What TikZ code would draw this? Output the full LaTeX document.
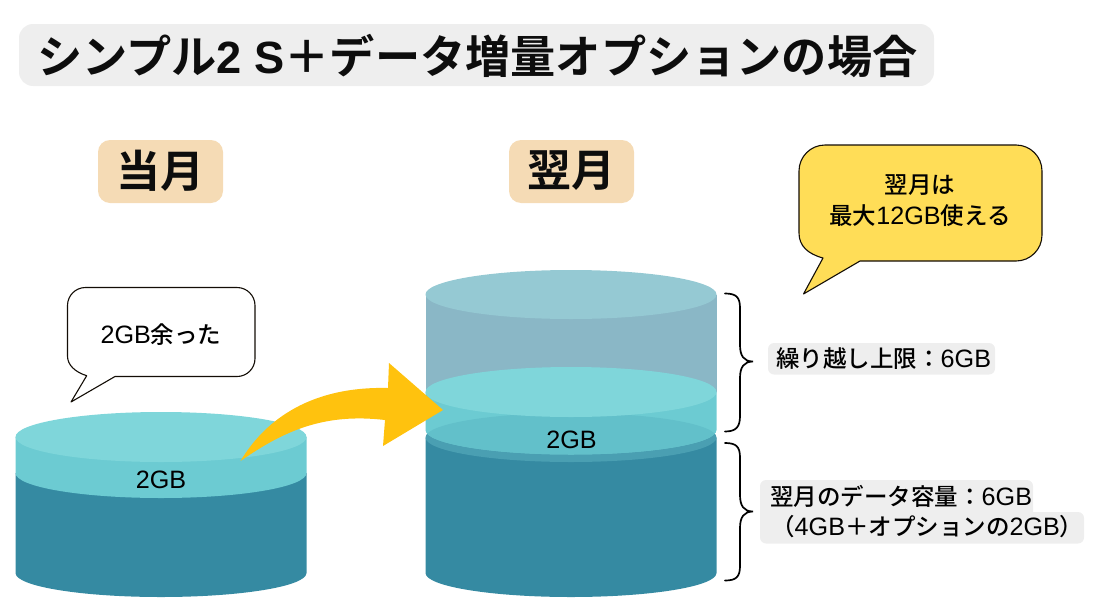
\documentclass[tikz,border=0pt]{standalone}
\usepackage{fontspec}
\setmainfont{Noto Sans CJK JP Medium}[BoldFont={Noto Sans CJK JP Bold}]
\newfontfamily\lat{Liberation Sans}[Scale=1.07]
\newfontfamily\latb{Liberation Sans Bold}
\definecolor{darkc}{HTML}{358AA2}
\definecolor{darktop}{HTML}{4A9FB2}
\definecolor{lightside}{HTML}{6CCBD2}
\definecolor{lighttop}{HTML}{7FD6DA}
\definecolor{overlap}{HTML}{62C0CA}
\definecolor{ghostside}{HTML}{8AB7C6}
\definecolor{ghosttop}{HTML}{95C9D3}
\definecolor{arrowc}{HTML}{FFC20E}
\definecolor{bubbley}{HTML}{FFDD57}
\definecolor{peach}{HTML}{F5DBB5}
\definecolor{graybg}{HTML}{EEEEEE}
\tikzset{
 txt/.style={inner sep=0pt,font=\fontsize{23.5}{28}\selectfont,text=black},
 head/.style={inner sep=0pt,font=\fontsize{44}{50}\selectfont\bfseries,text=black!95},
 graybox/.style={fill=graybg,rounded corners=6pt},
 bracec/.style={draw=black,line width=1.7pt,line cap=round},
 bubble/.style={draw=black!90!brown,line width=1.1pt,line join=round}
}
\begin{document}
\begin{tikzpicture}[x=1pt,y=-1pt]
\useasboundingbox (0,0) rectangle (1100,613);
% title
\fill[graybg,rounded corners=14pt] (19,24) rectangle (934,86);
\node[head,font=\fontsize{45.2}{50}\selectfont\bfseries] (title) at (477.5,56) {シンプル{\latb 2 S}＋データ増量オプションの場合};
% heading boxes
\fill[peach,rounded corners=12pt] (98,140) rectangle (223,203);
\fill[peach,rounded corners=12pt] (509,140) rectangle (634,203);
\node[head] (cur) at (160.5,171) {当月};
\node[head] (nxt) at (571.5,171) {翌月};
% left cylinder
\fill[darkc] (15.5,473) -- (15.5,573) arc[start angle=180,end angle=0,x radius=145.5,y radius=24] -- (306.5,473) -- cycle;
\fill[lightside] (15.5,437) -- (15.5,473) arc[start angle=180,end angle=0,x radius=145.5,y radius=25] -- (306.5,437) -- cycle;
\fill[lighttop] (161,437) ellipse[x radius=145.5,y radius=25];
\node[txt] (leftgb) at (161,480) {\lat 2GB};
% right cylinder
\fill[ghostside] (425.5,294.5) rectangle (716.5,392);
\fill[ghosttop] (571,294.5) ellipse[x radius=145.5,y radius=24.5];
\fill[darkc] (425.5,437.5) -- (425.5,573) arc[start angle=180,end angle=0,x radius=145.5,y radius=24] -- (716.5,437.5) -- cycle;
\fill[darktop] (571,437.5) ellipse[x radius=145.5,y radius=24.5];
\fill[lightside] (425.5,392) -- (425.5,430) arc[start angle=180,end angle=0,x radius=145.5,y radius=24.5] -- (716.5,392) -- cycle;
\begin{scope}
\clip (425.5,392) -- (425.5,430) arc[start angle=180,end angle=0,x radius=145.5,y radius=24.5] -- (716.5,392) -- cycle;
\fill[overlap] (571,437.5) ellipse[x radius=145.5,y radius=24.5];
\end{scope}
\fill[lighttop] (571,392) ellipse[x radius=145.5,y radius=25];
\node[txt] (rightgb) at (571.5,440) {\lat 2GB};
% arrow
\fill[arrowc] (240.5,461) .. controls (262,425) and (305,386) .. (388,388)
 -- (389,363) -- (443,410) -- (383,446) -- (385,420)
 .. controls (325,413) and (285,430) .. cycle;
% left bubble
\path[bubble,fill=white] (85.5,287.5) -- (237,287.5) arc[start angle=-90,end angle=0,radius=18] -- (255,358.5) arc[start angle=0,end angle=90,radius=18] -- (115,376.5) -- (71,402) -- (86.7,375.7) .. controls (75,372) and (67.5,365) .. (67.5,356) -- (67.5,305.5) arc[start angle=180,end angle=270,radius=18] -- cycle;
\node[txt] (lefttxt) at (161,335) {{\lat 2GB}余った};
% right bubble
\path[bubble,fill=bubbley] (825,145) -- (1016,145) arc[start angle=-90,end angle=0,radius=26] -- (1042,235) arc[start angle=0,end angle=90,radius=26] -- (860,261) -- (803.5,294) -- (823,258) .. controls (808,254) and (799,246) .. (799,233) -- (799,171) arc[start angle=180,end angle=270,radius=26] -- cycle;
\node[txt] (ytxt1) at (920,185) {翌月は};
\node[txt] (ytxt2) at (920,216) {最大{\lat 12GB}使える};
% braces
\path[bracec] (725,293.5) .. controls (736,293.5) and (740,297) .. (740,308)
 -- (740,345) .. controls (740,356) and (744,361.5) .. (753,361.5)
 .. controls (744,361.5) and (740,367) .. (740,378)
 -- (740,416) .. controls (740,427) and (736,431.5) .. (725,431.5);
\path[bracec] (725,443) .. controls (736,443) and (740,446.5) .. (740,457.5)
 -- (740,495) .. controls (740,506) and (744,511.5) .. (753,511.5)
 .. controls (744,511.5) and (740,517) .. (740,528)
 -- (740,566) .. controls (740,577) and (736,580.5) .. (725,580.5);
% labels
\fill[graybox] (768,343) rectangle (995,374.5);
\node[txt,anchor=west] (lab1) at (776,359) {繰り越し上限：{\lat 6GB}};
\fill[graybox] (760,480) rectangle (1033,525);
\fill[graybox] (760,512) rectangle (1084,543.5);
\node[txt,anchor=west] (lab2) at (770,496) {翌月のデータ容量：{\lat 6GB}};
\node[txt,anchor=west] (lab3) at (771,527) {（{\lat 4GB}＋オプションの{\lat 2GB}）};
\end{tikzpicture}
\end{document}
